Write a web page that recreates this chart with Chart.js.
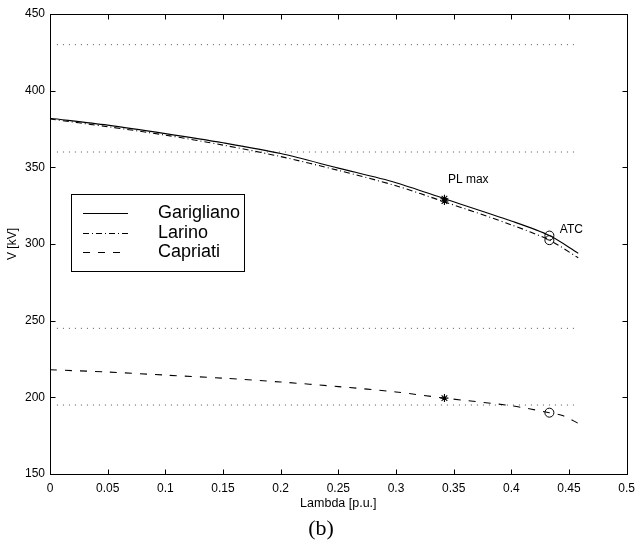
<!DOCTYPE html>
<html><head><meta charset="utf-8">
<script src="https://cdn.jsdelivr.net/npm/chart.js@4"></script>
<style>html,body{margin:0;padding:0;background:#fff}#wrap{width:642px;height:544px;position:relative}</style>
</head><body><div id="wrap"><canvas id="c"></canvas></div>
<script>
// ---- data ----
const lambdaPts   = [0, 0.05, 0.1, 0.15, 0.2, 0.25, 0.3, 0.342, 0.4, 0.433, 0.458];
const garigliano  = [382, 377.5, 372, 366, 359, 349.5, 340, 329.5, 315, 305.5, 294];
const larino      = [381.5, 376.5, 371, 364.5, 357, 348, 338, 327.5, 312.5, 302.5, 291];
const capriatiLambda = [0, 0.05, 0.1, 0.15, 0.2, 0.25, 0.3, 0.342, 0.4, 0.433, 0.445, 0.458];
const capriati    = [218, 216.5, 214.5, 212.5, 210, 207, 203.5, 199.5, 194.5, 190, 188, 183];
const plMaxLambda = 0.342;
const plMaxV      = [329.5, 328, 199.5];
const atcLambda   = 0.433;
const atcV        = [305.5, 302.5, 190];
const limitLevels = [430, 360, 245, 195];
const limitRange  = [0.006, 0.455];
const xTicks = [0, 0.05, 0.1, 0.15, 0.2, 0.25, 0.3, 0.35, 0.4, 0.45, 0.5];
const yTicks = [150, 200, 250, 300, 350, 400, 450];
const seriesNames = ['Garigliano', 'Larino', 'Capriati'];

const FONT = "'Liberation Sans', Arial, Helvetica, sans-serif";
const dashSolid = [], dashDot = [6, 3, 1, 3], dashDash = [7, 8];
const styles = [dashSolid, dashDot, dashDash];

const toXY = (xs, ys) => xs.map((x, i) => ({x: x, y: ys[i]}));

const datasets = [];
limitLevels.forEach(v => datasets.push({
  data: limitRange.map(x => ({x: x, y: v})), showLine: true, borderColor: '#555',
  borderWidth: 1, borderDash: [1, 5], pointRadius: 0, order: 5
}));
datasets.push({label: seriesNames[0], data: toXY(lambdaPts, garigliano), showLine: true,
  borderColor: '#000', borderWidth: 1.1, borderDash: dashSolid, pointRadius: 0, tension: 0.3});
datasets.push({label: seriesNames[1], data: toXY(lambdaPts, larino), showLine: true,
  borderColor: '#000', borderWidth: 1.1, borderDash: dashDot, pointRadius: 0, tension: 0.3});
datasets.push({label: seriesNames[2], data: toXY(capriatiLambda, capriati), showLine: true,
  borderColor: '#000', borderWidth: 1.1, borderDash: dashDash, pointRadius: 0, tension: 0.3});
datasets.push({data: plMaxV.map(v => ({x: plMaxLambda, y: v})), showLine: false,
  pointStyle: 'star', pointRadius: 4, borderColor: '#000', borderWidth: 1.1, backgroundColor: '#000'});
datasets.push({data: atcV.map(v => ({x: atcLambda, y: v})), showLine: false,
  pointStyle: 'circle', pointRadius: 4.5, borderColor: '#000', borderWidth: 1, backgroundColor: 'rgba(0,0,0,0)'});

const decor = {
  id: 'decor',
  afterDraw(chart) {
    const ctx = chart.ctx, a = chart.chartArea, xs = chart.scales.x, ys = chart.scales.y;
    ctx.save();
    ctx.strokeStyle = '#000'; ctx.lineWidth = 1; ctx.setLineDash([]);
    const L = Math.round(a.left) + 0.5, R = Math.round(a.right) + 0.5,
          T = Math.round(a.top) + 0.5, B = Math.round(a.bottom) + 0.5;
    ctx.strokeRect(L, T, R - L, B - T);
    ctx.beginPath();
    xTicks.forEach(t => {
      const px = Math.round(xs.getPixelForValue(t)) + 0.5;
      ctx.moveTo(px, B); ctx.lineTo(px, B - 5);
      ctx.moveTo(px, T); ctx.lineTo(px, T + 5);
    });
    yTicks.forEach(t => {
      const py = Math.round(ys.getPixelForValue(t)) + 0.5;
      ctx.moveTo(L, py); ctx.lineTo(L + 5, py);
      ctx.moveTo(R, py); ctx.lineTo(R - 5, py);
    });
    ctx.stroke();
    // legend
    const bx = 71.5, by = 194.5, bw = 173, bh = 77;
    ctx.fillStyle = '#fff'; ctx.fillRect(bx, by, bw, bh);
    ctx.strokeRect(bx, by, bw, bh);
    const rows = [213, 233, 252];
    ctx.font = '18px ' + FONT; ctx.fillStyle = '#000'; ctx.textBaseline = 'middle'; ctx.textAlign = 'left';
    seriesNames.forEach((n, i) => {
      ctx.setLineDash(styles[i]); ctx.lineWidth = 1.1;
      ctx.beginPath(); ctx.moveTo(83, rows[i] + 0.5); ctx.lineTo(128, rows[i] + 0.5); ctx.stroke();
      ctx.fillText(n, 158, rows[i]);
    });
    ctx.setLineDash([]);
    // annotations
    ctx.font = '12px ' + FONT; ctx.textBaseline = 'middle';
    ctx.fillText('PL max', xs.getPixelForValue(0.345), 180);
    ctx.fillText('ATC', xs.getPixelForValue(0.442), 230);
    // caption
    ctx.font = "22px 'Liberation Serif', 'DejaVu Serif', serif"; ctx.textAlign = 'center';
    ctx.fillText('(b)', 321, 529);
    ctx.restore();
  }
};

new Chart(document.getElementById('c'), {
  type: 'scatter',
  data: {datasets: datasets},
  options: {
    responsive: true, maintainAspectRatio: false, animation: false, devicePixelRatio: 1,
    layout: {padding: {left: 0, right: 8, top: 14, bottom: 30}},
    plugins: {legend: {display: false}, tooltip: {enabled: false}},
    scales: {
      x: {
        type: 'linear', min: 0, max: 0.5,
        afterFit: s => { s.height = 40; },
        afterBuildTicks: s => { s.ticks = xTicks.map(v => ({value: v})); },
        grid: {display: false, drawTicks: false}, border: {display: false},
        ticks: {color: '#000', font: {family: FONT, size: 12}, padding: 7, maxRotation: 0, autoSkip: false,
          callback: v => String(v)},
        title: {display: true, text: 'Lambda [p.u.]', color: '#000', font: {family: FONT, size: 12.5}, padding: {top: 0, bottom: 3}}
      },
      y: {
        type: 'linear', min: 150, max: 450,
        afterFit: s => { s.width = 50; },
        afterBuildTicks: s => { s.ticks = yTicks.map(v => ({value: v})); },
        grid: {display: false, drawTicks: false}, border: {display: false},
        ticks: {color: '#000', font: {family: FONT, size: 12}, padding: 5, autoSkip: false},
        title: {display: true, text: 'V [kV]', color: '#000', font: {family: FONT, size: 12}, padding: {top: 5, bottom: 0}}
      }
    }
  },
  plugins: [decor]
});
</script>
</body></html>
